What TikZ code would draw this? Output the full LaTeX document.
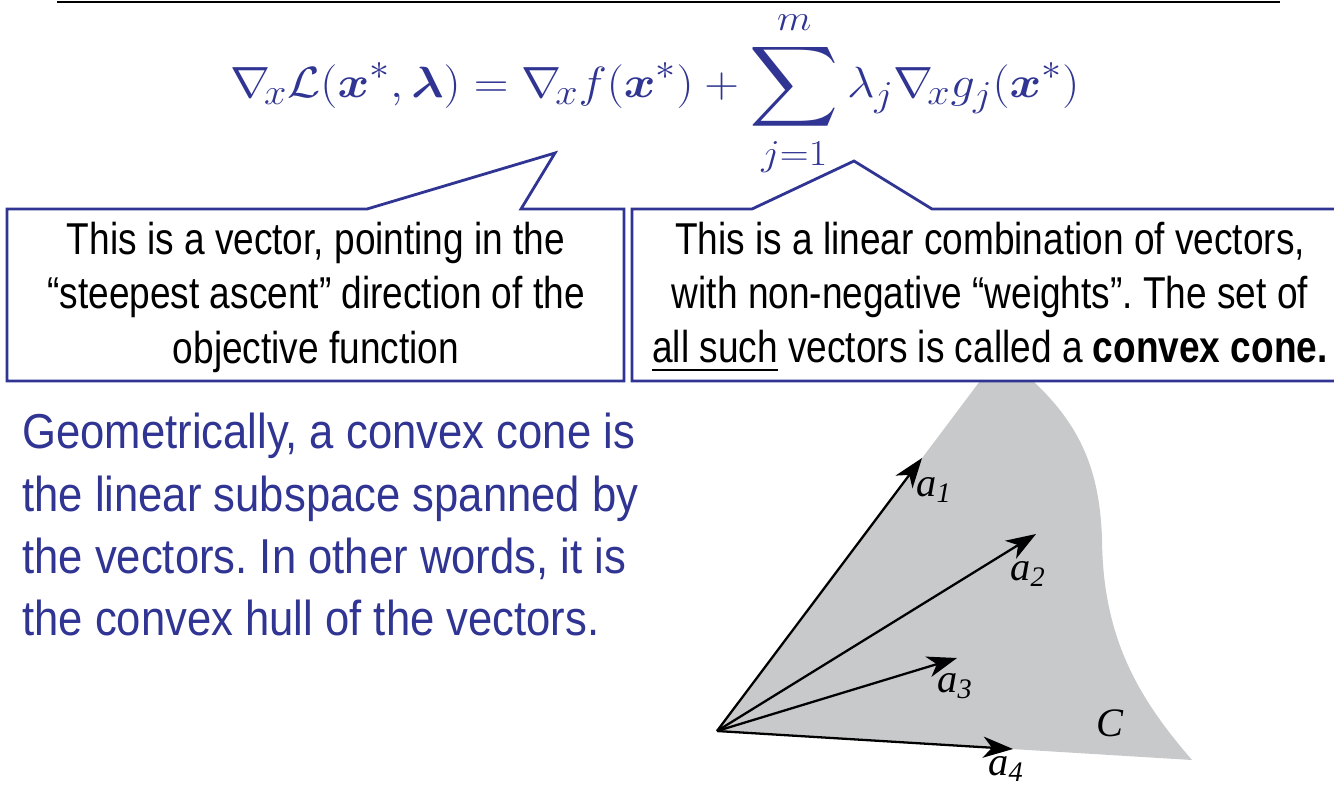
\documentclass[tikz,border=0pt]{standalone}
\usepackage{amsmath}
\usepackage{amssymb}
\usepackage{fontspec}
\usetikzlibrary{arrows.meta,positioning}
\newfontfamily\notefont[FakeStretch=0.83]{Liberation Sans}
\newfontfamily\geomfont[FakeStretch=0.89]{Liberation Sans}
\newfontfamily\figfont{Liberation Serif}
\definecolor{slideblue}{RGB}{48,52,146}
\definecolor{conegray}{RGB}{200,201,203}
\frenchspacing

\begin{document}
\begin{tikzpicture}[x=0.02cm,y=-0.02cm,
  callout/.style={draw=slideblue,line width=1.6pt,fill=white},
  note/.style={font=\notefont\fontsize{25.4}{31}\selectfont,align=center,text=black},
  vec/.style={-{Stealth[length=17pt,width=12pt,inset=5pt]},line width=1.3pt},
  veclabel/.style={font=\figfont\itshape\fontsize{23}{26}\selectfont}]
\useasboundingbox (0,0) rectangle (1334,792);
% Rule at the top
\draw[line width=1.7pt] (57,2) -- (1280,2);
% Gradient of the Lagrangian
\node[inner sep=0pt,text=slideblue,font=\fontsize{32}{38}\selectfont] (eqn) at (655,94)
  {\scalebox{1.1}[1]{$\displaystyle \nabla_{\!x}\mathcal{L}(\boldsymbol{x}^{*},\boldsymbol{\lambda}) = \nabla_{\!x} f(\boldsymbol{x}^{*}) + \sum_{j=1}^{m}\lambda_j\nabla_{\!x} g_j(\boldsymbol{x}^{*})$}};
% Shaded cone
\fill[conegray] (717,731) -- (980,381) -- (1033,381)
  .. controls (1080,425) and (1100,470) .. (1102,540)
  .. controls (1103,640) and (1140,700) .. (1192,760) -- cycle;
% Callouts
\draw[callout] (7,381) -- (7,209) -- (367,209) -- (555,153) -- (521,209) -- (624,209) -- (624,381) -- cycle;
\draw[callout] (1345,381) -- (632,381) -- (632,209) -- (752,209) -- (854,161) -- (932,209) -- (1345,209);
\node[note] (leftnote) at (316,297) {This is a vector, pointing in the\\“steepest ascent” direction of the\\objective function};
\node[note] (rightnote) at (990,297) {This is a linear combination of vectors,\\with non-negative “weights”. The set of\\\underline{all such} vectors is called a \textbf{convex cone.}};
% Explanation
\node[anchor=north west,inner sep=0pt,align=left,text=slideblue,font=\geomfont\fontsize{27.9}{35.4}\selectfont] (geom) at (22,413)
  {Geometrically, a convex cone is\\the linear subspace spanned by\\the vectors. In other words, it is\\the convex hull of the vectors.};
% Generating vectors
\coordinate (o) at (717,731);
\coordinate (t1) at (922,458);
\coordinate (t2) at (1036,534);
\coordinate (t3) at (957,658);
\coordinate (t4) at (1013,749);
\foreach \t in {t1,t2,t3,t4}
  \draw[vec] (o) -- (\t);
\node[veclabel] (l1) at (934,490) {a\textsubscript{1}};
\node[veclabel] (l2) at (1028,574) {a\textsubscript{2}};
\node[veclabel] (l3) at (955,686) {a\textsubscript{3}};
\node[veclabel] (l4) at (1006,769) {a\textsubscript{4}};
\node[veclabel] (cname) at (1110,723) {C};
\end{tikzpicture}
\end{document}
